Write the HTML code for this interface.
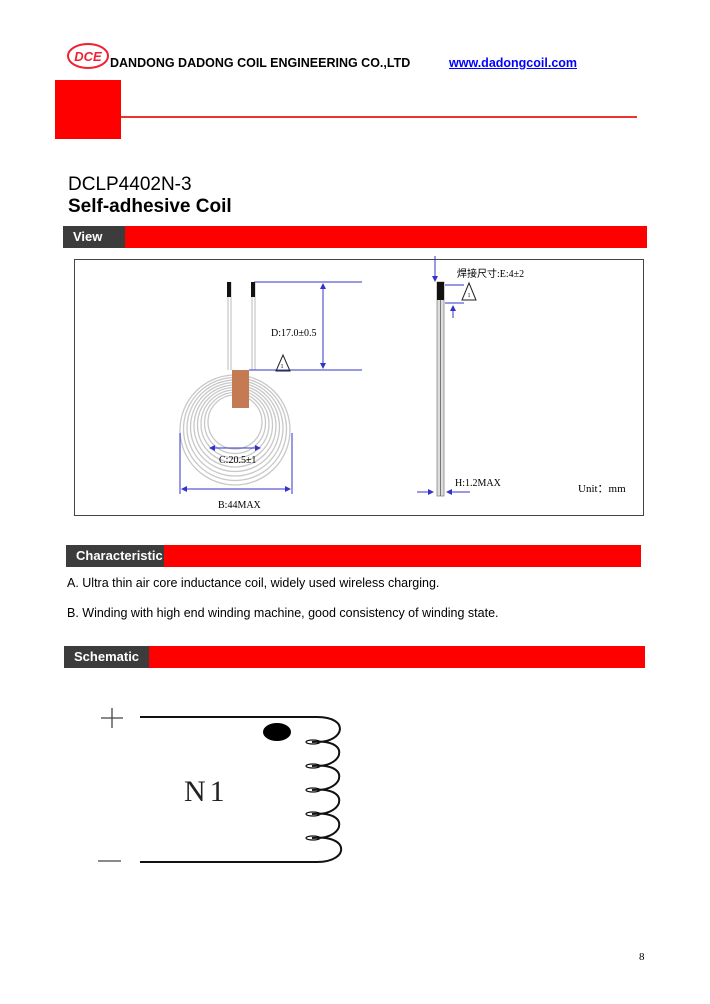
<!DOCTYPE html>
<html><head><meta charset="utf-8"><style>
body{margin:0;width:710px;height:1004px;background:#fff;position:relative;font-family:"Liberation Sans",Arial,sans-serif;overflow:hidden}
.a{position:absolute}
.bar{position:absolute;background:#ff0000;height:22px}
.tab{position:absolute;left:0;top:0;height:22px;background:#3c3c3c;color:#fff;font-weight:bold;font-size:13px;line-height:22px;padding-left:10px;box-sizing:border-box}
</style></head><body>
<svg class="a" style="left:66px;top:42px" width="46" height="28"><ellipse cx="22" cy="14" rx="20" ry="12" fill="none" stroke="#e23" stroke-width="2"/><text x="22" y="19" text-anchor="middle" font-family="Liberation Sans" font-weight="bold" font-style="italic" font-size="13" fill="#e23">DCE</text></svg>
<div class="a" style="left:110px;top:56px;font-size:12.5px;font-weight:bold">DANDONG DADONG COIL ENGINEERING CO.,LTD</div>
<div class="a" style="left:449px;top:56px;font-size:12.5px;font-weight:bold;color:#00f;text-decoration:underline">www.dadongcoil.com</div>
<div class="a" style="left:55px;top:80px;width:66px;height:59px;background:#ff0000"></div>
<div class="a" style="left:121px;top:116px;width:516px;height:2px;background:#e33"></div>
<div class="a" style="left:68px;top:174px;font-size:19px">DCLP4402N-3</div>
<div class="a" style="left:68px;top:196px;font-size:19px;font-weight:bold">Self-adhesive Coil</div>
<div class="bar" style="left:63px;top:226px;width:584px"><div class="tab" style="width:62px">View</div></div>
<div class="a" style="left:74px;top:259px;width:570px;height:257px;border:1.5px solid #444;box-sizing:border-box"></div>
<svg class="a" style="left:0;top:0" width="710" height="1004" font-family="Liberation Serif" font-size="10">
<g fill="none" stroke="#c8c8c8" stroke-width="1.3">
<circle cx="235" cy="430" r="55"/><circle cx="235" cy="429" r="51.5"/><circle cx="235" cy="428" r="48"/><circle cx="235" cy="427" r="44.5"/><circle cx="235" cy="426" r="41"/><circle cx="235" cy="425" r="37.5"/><circle cx="235" cy="424" r="34"/><circle cx="235" cy="423" r="30.5"/><circle cx="235" cy="422" r="27"/></g>
<g stroke="#bbb" fill="none"><line x1="228" y1="282" x2="228" y2="370"/><line x1="231" y1="282" x2="231" y2="370"/><line x1="252" y1="282" x2="252" y2="370"/><line x1="255" y1="282" x2="255" y2="370"/></g>
<rect x="227" y="282" width="4" height="15" fill="#111"/><rect x="251" y="282" width="4" height="15" fill="#111"/>
<rect x="232" y="370" width="17" height="38" fill="#c47a52"/>
<g stroke="#33c" stroke-width="1" fill="none">
<line x1="254" y1="282" x2="362" y2="282"/><line x1="249" y1="370" x2="362" y2="370"/>
<line x1="323" y1="285" x2="323" y2="367"/>
<line x1="180" y1="433" x2="180" y2="494"/><line x1="292" y1="433" x2="292" y2="494"/>
<line x1="182" y1="489" x2="290" y2="489"/><line x1="210" y1="448" x2="260" y2="448"/>
<line x1="435" y1="256" x2="435" y2="280"/><line x1="445" y1="285" x2="464" y2="285"/><line x1="445" y1="303" x2="464" y2="303"/><line x1="453" y1="306" x2="453" y2="318"/>
<line x1="417" y1="492" x2="432" y2="492"/><line x1="447" y1="492" x2="470" y2="492"/></g>
<g fill="#33c"><path d="M323 283l-3 6h6z"/><path d="M323 369l-3-6h6z"/><path d="M181 489l6-3v6z"/><path d="M291 489l-6-3v6z"/><path d="M209 448l6-3v6z"/><path d="M261 448l-6-3v6z"/><path d="M435 282l-3-6h6z"/><path d="M453 305l-3 6h6z"/><path d="M434 492l-6-3v6z"/><path d="M446 492l6-3v6z"/></g>
<g fill="none" stroke="#222"><path d="M283 355l-7 16h14z"/><path d="M469 283l-7 17h14z"/></g>
<text x="282" y="368" font-size="6" text-anchor="middle">1</text><text x="469" y="297" font-size="6" text-anchor="middle">1</text>
<text x="271" y="336">D:17.0±0.5</text><text x="219" y="463">C:20.5±1</text><text x="218" y="508">B:44MAX</text>
<text x="457" y="277" font-family="Liberation Serif,'Noto Sans CJK SC',serif">焊接尺寸:E:4±2</text>
<text x="455" y="486">H:1.2MAX</text><text x="578" y="492" font-size="11" font-family="Liberation Serif,'Noto Sans CJK SC',serif">Unit：mm</text>
<rect x="437" y="282" width="7" height="214" fill="#ddd" stroke="#888" stroke-width="0.8"/><line x1="440.5" y1="282" x2="440.5" y2="496" stroke="#777"/>
<rect x="437" y="282" width="7" height="18" fill="#111"/>
</svg>
<div class="bar" style="left:66px;top:545px;width:575px"><div class="tab" style="width:98px">Characteristic</div></div>
<div class="a" style="left:67px;top:576px;font-size:12.5px">A. Ultra thin air core inductance coil, widely used wireless charging.</div>
<div class="a" style="left:67px;top:606px;font-size:12.5px">B. Winding with high end winding machine, good consistency of winding state.</div>
<div class="bar" style="left:64px;top:646px;width:581px"><div class="tab" style="width:85px">Schematic</div></div>
<svg class="a" style="left:0;top:0" width="710" height="1004">
<g stroke="#111" stroke-width="2" fill="none">
<line x1="140" y1="717" x2="317" y2="717"/><line x1="140" y1="862" x2="317" y2="862"/>
<path d="M317 717 C350 717 345 742 317 742 M312 742 C350 738 345 766 317 766 M312 766 C350 762 345 790 317 790 M312 790 C350 786 345 814 317 814 M312 814 C350 810 345 838 317 838 M312 838 C350 834 350 862 317 862"/>
</g>
<g stroke="#111" stroke-width="1.2" fill="none"><ellipse cx="313" cy="742" rx="7" ry="2"/><ellipse cx="313" cy="766" rx="7" ry="2"/><ellipse cx="313" cy="790" rx="7" ry="2"/><ellipse cx="313" cy="814" rx="7" ry="2"/><ellipse cx="313" cy="838" rx="7" ry="2"/></g>
<ellipse cx="277" cy="732" rx="14" ry="9" fill="#000"/>
<line x1="101" y1="718" x2="123" y2="718" stroke="#444" stroke-width="1.3"/><line x1="112" y1="708" x2="112" y2="728" stroke="#444" stroke-width="1.3"/>
<line x1="98" y1="861" x2="121" y2="861" stroke="#444" stroke-width="1.3"/>
<text x="184" y="801" font-family="Liberation Serif" font-size="30" fill="#222" letter-spacing="4">N1</text>
<text x="639" y="960" font-family="Liberation Serif" font-size="11">8</text>
</svg>
</body></html>
